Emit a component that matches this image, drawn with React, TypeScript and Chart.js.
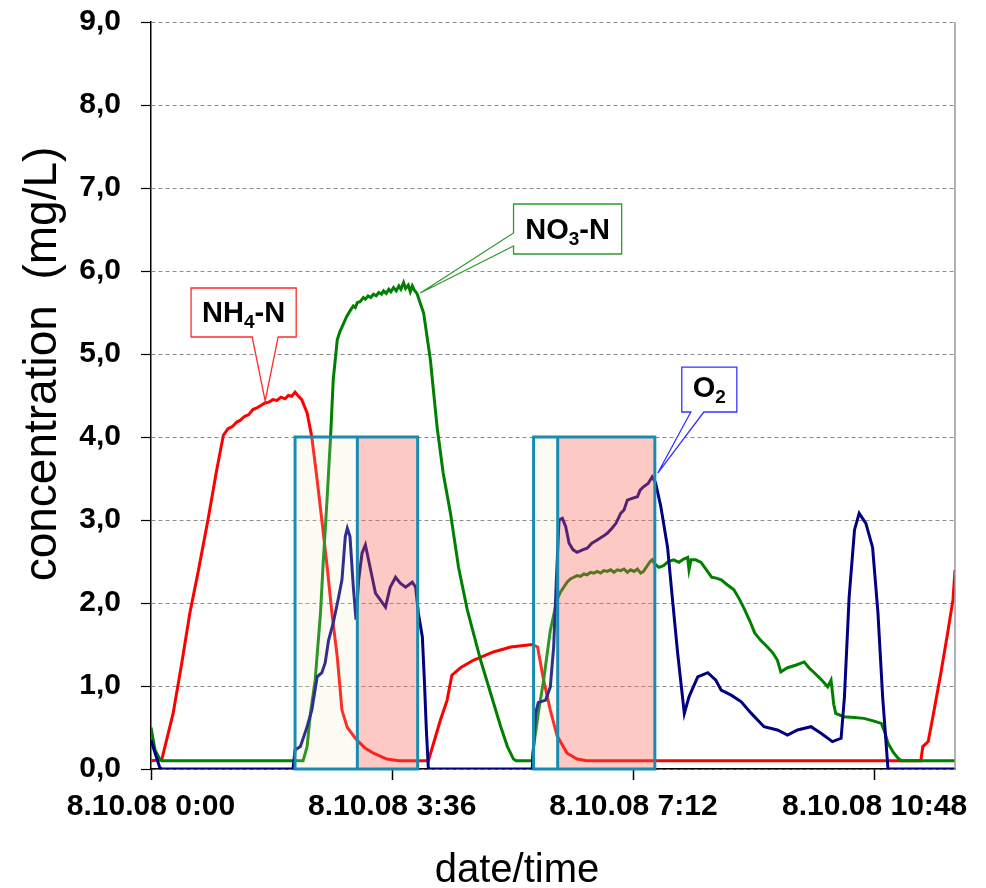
import { useEffect, useRef } from "react";
import { Chart, registerables } from "chart.js";

Chart.register(...registerables);

// ---- axis ticks ----
const xTickHours = [0, 3.6, 7.2, 10.8];
const xTickLabels = ["8.10.08 0:00", "8.10.08 3:36", "8.10.08 7:12", "8.10.08 10:48"];

// ---- NH4-N (red) ----
const nh4Hours = [
  0, 0.16, 0.33, 0.46, 0.58, 0.7, 0.85, 0.98, 1.08, 1.15, 1.22, 1.28, 1.33, 1.4, 1.46, 1.52, 1.58, 1.64, 1.7, 1.76,
  1.82, 1.88, 1.94, 2.0, 2.05, 2.1, 2.15, 2.19, 2.25, 2.33, 2.4, 2.48, 2.55, 2.63, 2.7, 2.78, 2.85, 2.93, 3.07, 3.2,
  3.32, 3.52, 3.7, 4.14, 4.32, 4.42, 4.49, 4.62, 4.81, 5.11, 5.37, 5.69, 5.77, 5.86, 5.96, 6.06, 6.21, 6.36, 6.5,
  11.49, 11.52, 11.6, 11.67, 11.79, 11.89, 11.97, 12.0,
];
const nh4Values = [
  0.1, 0.11, 0.67, 1.28, 1.88, 2.36, 3.0, 3.6, 4.02, 4.1, 4.13, 4.18, 4.2, 4.25, 4.27, 4.33, 4.35, 4.38, 4.41, 4.42,
  4.45, 4.44, 4.48, 4.46, 4.5, 4.49, 4.54, 4.5, 4.45, 4.29, 4.0, 3.48, 3.0, 2.43, 1.88, 1.35, 0.71, 0.5, 0.35, 0.25,
  0.19, 0.12, 0.1, 0.1, 0.59, 0.83, 1.13, 1.22, 1.31, 1.41, 1.47, 1.5, 1.47, 1.07, 0.71, 0.4, 0.19, 0.12, 0.1,
  0.1, 0.27, 0.33, 0.63, 1.16, 1.64, 2.04, 2.4,
];

// ---- NO3-N (green) ----
const no3Hours = [
  0, 0.06, 0.13, 0.16, 2.27, 2.33, 2.38, 2.45, 2.53, 2.57, 2.63, 2.68, 2.72, 2.78, 2.82, 2.87, 2.92, 2.97, 3.02, 3.05,
  3.08, 3.12, 3.17, 3.2, 3.24, 3.28, 3.32, 3.36, 3.4, 3.44, 3.47, 3.51, 3.55, 3.58, 3.62, 3.66, 3.7, 3.73, 3.77, 3.8,
  3.84, 3.87, 3.9, 3.93, 3.97, 4.07, 4.17, 4.27, 4.36, 4.47, 4.59, 4.72, 4.92, 5.07, 5.22, 5.32, 5.41, 5.45, 5.69, 5.71,
  5.78, 5.86, 5.96, 6.06, 6.11, 6.16, 6.21, 6.26, 6.31, 6.36, 6.41, 6.46, 6.51, 6.56, 6.61, 6.66, 6.71, 6.76, 6.81, 6.86,
  6.91, 6.96, 7.01, 7.06, 7.11, 7.16, 7.21, 7.26, 7.31, 7.35, 7.4, 7.45, 7.48, 7.52, 7.58, 7.65, 7.72, 7.8, 7.88, 7.95,
  8.01, 8.03, 8.06, 8.13, 8.21, 8.29, 8.37, 8.44, 8.51, 8.6, 8.7, 8.78, 8.86, 8.94, 9.01, 9.1, 9.2, 9.28, 9.35, 9.4,
  9.5, 9.62, 9.75, 9.82, 9.9, 10.0, 10.1, 10.15, 10.19, 10.22, 10.34, 10.5, 10.64, 10.78, 10.9, 10.95, 11.0, 11.08, 11.15, 11.2,
  12.0,
];
const no3Values = [
  0.5, 0.23, 0.12, 0.1, 0.1, 0.27, 0.67, 1.07, 1.88, 2.48, 3.28, 4.0, 4.69, 5.17, 5.27, 5.36, 5.45, 5.52, 5.58, 5.56,
  5.62, 5.63, 5.68, 5.66, 5.7, 5.68, 5.72, 5.7, 5.74, 5.72, 5.76, 5.73, 5.78, 5.75, 5.8, 5.76, 5.82, 5.78, 5.86, 5.79,
  5.83, 5.75, 5.82, 5.77, 5.73, 5.49, 4.93, 4.12, 3.57, 3.08, 2.43, 1.92, 1.31, 0.91, 0.51, 0.27, 0.12, 0.1, 0.1, 0.27,
  0.67, 1.07, 1.67, 2.04, 2.13, 2.19, 2.25, 2.29, 2.31, 2.33, 2.32, 2.35, 2.34, 2.37, 2.36, 2.38, 2.36, 2.39, 2.38, 2.4,
  2.37, 2.4, 2.39, 2.41, 2.37, 2.4, 2.38, 2.41, 2.36, 2.38, 2.44, 2.5, 2.52, 2.47, 2.43, 2.45, 2.5, 2.52, 2.49, 2.53,
  2.55, 2.4, 2.52, 2.52, 2.49, 2.4, 2.31, 2.3, 2.28, 2.22, 2.16, 2.05, 1.92, 1.78, 1.64, 1.55, 1.47, 1.4, 1.31, 1.17,
  1.22, 1.25, 1.29, 1.22, 1.16, 1.08, 0.99, 1.07, 0.78, 0.67, 0.63, 0.62, 0.61, 0.58, 0.55, 0.45, 0.31, 0.2, 0.13, 0.1,
  0.1,
];

// ---- O2 (navy) ----
const o2Hours = [
  0, 0.05, 0.13, 0.16, 2.12, 2.15, 2.23, 2.33, 2.4, 2.48, 2.55, 2.6, 2.65, 2.72, 2.8, 2.85, 2.9, 2.93, 2.97, 3.02,
  3.06, 3.1, 3.15, 3.2, 3.27, 3.35, 3.42, 3.5, 3.57, 3.65, 3.72, 3.8, 3.9, 3.95, 3.99, 4.05, 4.08, 4.11, 4.14, 5.69,
  5.74, 5.78, 5.89, 5.96, 6.01, 6.05, 6.09, 6.14, 6.19, 6.24, 6.3, 6.36, 6.44, 6.51, 6.58, 6.66, 6.74, 6.81, 6.88, 6.94,
  7.01, 7.06, 7.11, 7.18, 7.26, 7.3, 7.35, 7.42, 7.48, 7.53, 7.61, 7.71, 7.78, 7.86, 7.96, 8.03, 8.16, 8.31, 8.43, 8.51,
  8.66, 8.81, 8.96, 9.15, 9.35, 9.5, 9.65, 9.85, 10.0, 10.17, 10.3, 10.35, 10.42, 10.5, 10.57, 10.67, 10.77, 10.85, 10.92, 11.0,
  12.0,
];
const o2Values = [
  0.35, 0.22, 0.02, 0, 0, 0.23, 0.27, 0.51, 0.71, 1.11, 1.16, 1.28, 1.55, 1.76, 2.07, 2.28, 2.8, 2.9, 2.8, 2.19,
  1.8, 2.28, 2.6, 2.7, 2.43, 2.12, 2.04, 1.95, 2.19, 2.31, 2.24, 2.19, 2.25, 2.19, 1.88, 1.59, 1.07, 0.47, 0, 0,
  0.67, 0.8, 0.83, 0.99, 1.47, 2.28, 3.0, 3.02, 2.92, 2.72, 2.64, 2.61, 2.64, 2.66, 2.72, 2.76, 2.8, 2.84, 2.9, 2.96,
  3.08, 3.12, 3.24, 3.26, 3.28, 3.36, 3.4, 3.44, 3.52, 3.45, 3.16, 2.67, 2.07, 1.4, 0.67, 0.87, 1.11, 1.16, 1.07, 0.95,
  0.89, 0.81, 0.67, 0.51, 0.47, 0.41, 0.47, 0.51, 0.43, 0.33, 0.37, 0.87, 2.07, 2.88, 3.08, 2.96, 2.67, 1.88, 0.87, 0,
  0,
];

// ---- process phases (boxes) ----
const phaseStarts = [2.15, 5.71];
const phaseSplits = [3.08, 6.07];
const phaseEnds = [3.98, 7.52];
const phaseTop = 4.0;

// ---- callout labels ----
const calloutMain = ["NH", "NO", "O"];
const calloutSub = ["4", "3", "2"];
const calloutTail = ["-N", "-N", ""];

const toPoints = (xs: number[], ys: number[]) => xs.map((x, i) => ({ x, y: ys[i] }));

const FONT = "'Liberation Sans', Arial, sans-serif";

const overlayPlugin = {
  id: "overlay",
  afterDatasetsDraw(chart: any) {
    const { ctx, scales, chartArea } = chart;
    const xs = scales.x;
    const ys = scales.y;
    const X = (v: number) => xs.getPixelForValue(v);
    const Y = (v: number) => ys.getPixelForValue(v);

    // right border of plot
    ctx.save();
    ctx.strokeStyle = "#999999";
    ctx.lineWidth = 1.5;
    ctx.beginPath();
    ctx.moveTo(chartArea.right, chartArea.top);
    ctx.lineTo(chartArea.right, chartArea.bottom);
    ctx.stroke();
    ctx.restore();

    // phase boxes
    ctx.save();
    for (let i = 0; i < phaseStarts.length; i++) {
      const x0 = X(phaseStarts[i]);
      const x1 = X(phaseSplits[i]);
      const x2 = X(phaseEnds[i]);
      const yT = Y(phaseTop);
      const yB = Y(0);
      ctx.fillStyle = "rgba(240,235,200,0.2)";
      ctx.fillRect(x0, yT, x1 - x0, yB - yT);
      ctx.fillStyle = "rgba(245,100,90,0.35)";
      ctx.fillRect(x1, yT, x2 - x1, yB - yT);
      ctx.strokeStyle = "#1a8cb4";
      ctx.lineWidth = 3;
      ctx.strokeRect(x0, yT, x2 - x0, yB - yT);
      ctx.beginPath();
      ctx.moveTo(x1, yT);
      ctx.lineTo(x1, yB);
      ctx.stroke();
    }
    ctx.restore();

    // callouts (positions in data units)
    const callouts = [
      { box: [0.598, 2.167, 5.795, 5.205], side: "bottom", base: [1.51, 1.898], tip: [1.704, 4.434], color: "#ff2a2a" },
      { box: [5.411, 7.025, 6.807, 6.205], side: "left", base: [6.458, 6.301], tip: [4.021, 5.735], color: "#2e9a2e" },
      { box: [7.922, 8.744, 4.843, 4.301], side: "bottom", base: [8.057, 8.251], tip: [7.564, 3.566], color: "#3333ff" },
    ];
    callouts.forEach((c, i) => {
      const l = X(c.box[0]);
      const r = X(c.box[1]);
      const t = Y(c.box[2]);
      const b = Y(c.box[3]);
      const tx = X(c.tip[0]);
      const ty = Y(c.tip[1]);
      ctx.save();
      ctx.beginPath();
      if (c.side === "bottom") {
        const b1 = X(c.base[0]);
        const b2 = X(c.base[1]);
        ctx.moveTo(l, t);
        ctx.lineTo(r, t);
        ctx.lineTo(r, b);
        ctx.lineTo(b2, b);
        ctx.lineTo(tx, ty);
        ctx.lineTo(b1, b);
        ctx.lineTo(l, b);
        ctx.closePath();
      } else {
        const y1 = Y(c.base[0]);
        const y2 = Y(c.base[1]);
        ctx.moveTo(l, t);
        ctx.lineTo(r, t);
        ctx.lineTo(r, b);
        ctx.lineTo(l, b);
        ctx.lineTo(l, y2);
        ctx.lineTo(tx, ty);
        ctx.lineTo(l, y1);
        ctx.closePath();
      }
      ctx.fillStyle = "#ffffff";
      ctx.fill();
      ctx.strokeStyle = c.color;
      ctx.lineWidth = 1.3;
      ctx.stroke();

      // text
      const mainFont = `bold 29px ${FONT}`;
      const subFont = `bold 19px ${FONT}`;
      ctx.font = mainFont;
      const w1 = ctx.measureText(calloutMain[i]).width;
      const w3 = ctx.measureText(calloutTail[i]).width;
      ctx.font = subFont;
      const w2 = ctx.measureText(calloutSub[i]).width;
      const total = w1 + w2 + w3;
      let sx = (l + r) / 2 - total / 2;
      const base = b - 15;
      ctx.fillStyle = "#000000";
      ctx.textBaseline = "alphabetic";
      ctx.textAlign = "left";
      ctx.font = mainFont;
      ctx.fillText(calloutMain[i], sx, base);
      sx += w1;
      ctx.font = subFont;
      ctx.fillText(calloutSub[i], sx, base + 6);
      sx += w2;
      ctx.font = mainFont;
      ctx.fillText(calloutTail[i], sx, base);
      ctx.restore();
    });
  },
  afterDraw(chart: any) {
    const { ctx } = chart;
    ctx.save();
    ctx.fillStyle = "#000000";
    ctx.font = `40px ${FONT}`;
    ctx.textAlign = "center";
    ctx.textBaseline = "alphabetic";
    ctx.fillText("date/time", 517, 882);
    ctx.translate(56, 364);
    ctx.rotate(-Math.PI / 2);
    ctx.font = `46px ${FONT}`;
    ctx.fillText("concentration  (mg/L)", 0, 0);
    ctx.restore();
  },
};

export default function App() {
  const canvasRef = useRef<HTMLCanvasElement | null>(null);

  useEffect(() => {
    const canvas = canvasRef.current;
    if (!canvas) return;
    const chart = new Chart(canvas, {
      type: "line",
      data: {
        datasets: [
          {
            label: "O2",
            data: toPoints(o2Hours, o2Values),
            borderColor: "#000080",
            borderWidth: 3,
            pointRadius: 0,
            tension: 0,
            order: 0,
          },
          {
            label: "NO3-N",
            data: toPoints(no3Hours, no3Values),
            borderColor: "#008000",
            borderWidth: 3,
            pointRadius: 0,
            tension: 0,
            order: 1,
          },
          {
            label: "NH4-N",
            data: toPoints(nh4Hours, nh4Values),
            borderColor: "#ff0000",
            borderWidth: 3,
            pointRadius: 0,
            tension: 0,
            order: 2,
          },
        ],
      },
      options: {
        animation: false,
        responsive: false,
        devicePixelRatio: 1,
        layout: { padding: { left: 0, right: 31, top: 22, bottom: 0 } },
        plugins: { legend: { display: false }, tooltip: { enabled: false } },
        scales: {
          x: {
            type: "linear",
            min: 0,
            max: 12,
            afterBuildTicks: (scale: any) => {
              scale.ticks = xTickHours.map((v) => ({ value: v }));
            },
            afterFit: (scale: any) => {
              scale.height = 119;
            },
            ticks: {
              autoSkip: false,
              maxRotation: 0,
              minRotation: 0,
              padding: 9,
              color: "#000000",
              font: { family: FONT, size: 30, weight: "bold" },
              callback: (value: any) => {
                const i = xTickHours.findIndex((h) => Math.abs(h - Number(value)) < 1e-6);
                return i >= 0 ? xTickLabels[i] : "";
              },
            },
            grid: { drawOnChartArea: false, drawTicks: true, tickLength: 11, tickColor: "#000000", tickWidth: 1.5 },
            border: { display: true, color: "#000000", width: 1.5 },
          },
          y: {
            min: 0,
            max: 9,
            afterFit: (scale: any) => {
              scale.width = 151;
            },
            ticks: {
              stepSize: 1,
              padding: 20,
              color: "#000000",
              font: { family: FONT, size: 30, weight: "bold", lineHeight: 0.1 },
              callback: (value: any) => Number(value).toFixed(1).replace(".", ","),
            },
            grid: {
              color: "#8c8c8c",
              lineWidth: 1,
              drawTicks: true,
              tickLength: 10,
              tickColor: "#000000",
              tickWidth: 1.2,
            },
            border: { display: true, color: "#000000", width: 1.5, dash: [4, 3] },
          },
        },
      },
      plugins: [overlayPlugin],
    } as any);
    return () => chart.destroy();
  }, []);

  return (
    <div style={{ position: "fixed", left: 0, top: 0, width: 986, height: 888, background: "#ffffff" }}>
      <canvas ref={canvasRef} width={986} height={888} style={{ width: 986, height: 888, display: "block" }} />
    </div>
  );
}
